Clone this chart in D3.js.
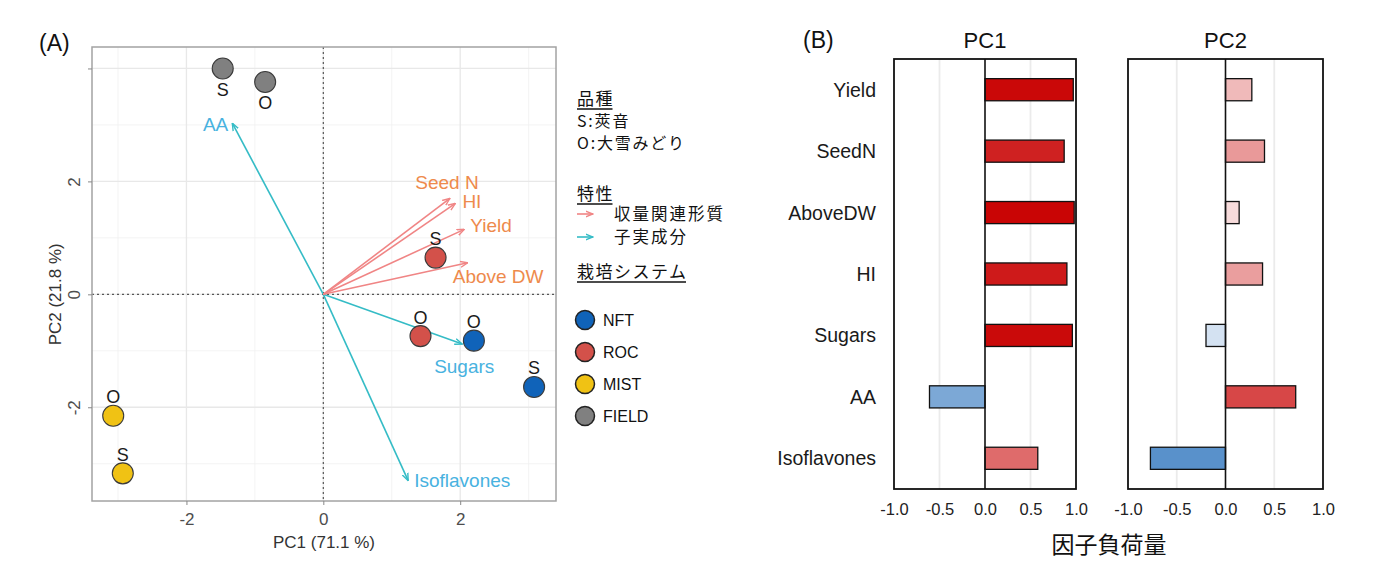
<!DOCTYPE html>
<html>
<head>
<meta charset="utf-8">
<script src="https://cdn.jsdelivr.net/npm/d3@7"></script>
<style>
  body { margin: 0; background: #fff; }
  text { font-family: "Liberation Sans", Arial, "Noto Sans CJK JP", sans-serif; }
  .jp { font-family: "Noto Sans CJK JP", sans-serif; }
</style>
</head>
<body>
<svg id="chart" width="1384" height="579"></svg>
<script>
// ---- data (A) PCA biplot ----
const pointSystem = ["FIELD", "FIELD", "ROC", "ROC", "NFT", "NFT", "MIST", "MIST"];
const pointVariety = ["S", "O", "S", "O", "O", "S", "O", "S"];
const pointPC1 = [-1.47, -0.85, 1.64, 1.42, 2.20, 3.08, -3.07, -2.93];
const pointPC2 = [4.00, 3.76, 0.65, -0.74, -0.82, -1.64, -2.15, -3.17];

const arrowNames = ["AA", "Sugars", "Isoflavones", "Seed N", "HI", "Yield", "Above DW"];
const arrowGroup = ["seed", "seed", "seed", "yield", "yield", "yield", "yield"];
const arrowPC1 = [-1.33, 2.03, 1.24, 1.85, 1.93, 2.06, 2.11];
const arrowPC2 = [3.03, -0.88, -3.30, 1.70, 1.61, 1.15, 0.56];

const xTicksA = [-2, 0, 2];
const yTicksA = [-2, 0, 2];

// ---- data (B) loadings ----
const traits = ["Yield", "SeedN", "AboveDW", "HI", "Sugars", "AA", "Isoflavones"];
const pc1Loadings = [0.97, 0.87, 0.98, 0.90, 0.96, -0.61, 0.58];
const pc2Loadings = [0.27, 0.40, 0.14, 0.38, -0.20, 0.72, -0.77];
const loadTicks = [-1, -0.5, 0, 0.5, 1];

const systems = ["NFT", "ROC", "MIST", "FIELD"];
const systemColor = { NFT: "#1063b9", ROC: "#d3514a", MIST: "#f0c214", FIELD: "#808080" };
const groupColor = { yield: "#f08585", seed: "#35bcc6" };
const groupLabelColor = { yield: "#ee8a4c", seed: "#48b2df" };

// plain hyphen for negatives, like the original
const fmt = d3.formatLocale({ decimal: ".", thousands: ",", grouping: [3], currency: ["", ""], minus: "-" });

// label placement relative to arrow tip (px)
const arrowLabelPos = {
  "AA": [-4, 1, "end"],
  "Sugars": [2, 22, "middle"],
  "Isoflavones": [6, 0, "start"],
  "Seed N": [-3, -16, "middle"],
  "HI": [7, -2, "start"],
  "Yield": [6, -4, "start"],
  "Above DW": [-15, 14, "start"]
};

const svg = d3.select("#chart");

// arrow markers
Object.entries(groupColor).forEach(([k, c]) => {
  svg.append("defs").append("marker")
    .attr("id", "arr-" + k)
    .attr("markerUnits", "userSpaceOnUse")
    .attr("viewBox", "0 0 8 8")
    .attr("markerWidth", 8).attr("markerHeight", 8)
    .attr("refX", 7.5).attr("refY", 4)
    .attr("orient", "auto")
    .append("path")
    .attr("d", "M0,1 L7.5,4 L0,7")
    .attr("fill", "none").attr("stroke", c).attr("stroke-width", 1.4);
});

// ---------- panel A ----------
const pa = { left: 92, right: 556, top: 47, bottom: 501 };
const x = d3.scaleLinear().domain([-3.38, 3.40]).range([pa.left, pa.right]);
const y = d3.scaleLinear().domain([-3.66, 4.38]).range([pa.bottom, pa.top]);

const gA = svg.append("g");

// grid
const minorX = [-3, -1, 1, 3], minorY = [-3, -1, 1, 3];
gA.selectAll(".gxm").data(minorX).join("line")
  .attr("x1", d => x(d)).attr("x2", d => x(d)).attr("y1", pa.top).attr("y2", pa.bottom)
  .attr("stroke", "#f0f0f0").attr("stroke-width", 0.8);
gA.selectAll(".gym").data(minorY).join("line")
  .attr("y1", d => y(d)).attr("y2", d => y(d)).attr("x1", pa.left).attr("x2", pa.right)
  .attr("stroke", "#f0f0f0").attr("stroke-width", 0.8);
gA.selectAll(".gx").data([-2, 0, 2]).join("line")
  .attr("x1", d => x(d)).attr("x2", d => x(d)).attr("y1", pa.top).attr("y2", pa.bottom)
  .attr("stroke", "#e8e8e8").attr("stroke-width", 1.3);
gA.selectAll(".gy").data([-2, 0, 2, 4]).join("line")
  .attr("y1", d => y(d)).attr("y2", d => y(d)).attr("x1", pa.left).attr("x2", pa.right)
  .attr("stroke", "#e8e8e8").attr("stroke-width", 1.3);

// zero dashed lines
gA.append("line").attr("x1", x(0)).attr("x2", x(0)).attr("y1", pa.top).attr("y2", pa.bottom)
  .attr("stroke", "#555").attr("stroke-width", 1.2).attr("stroke-dasharray", "2,3");
gA.append("line").attr("y1", y(0)).attr("y2", y(0)).attr("x1", pa.left).attr("x2", pa.right)
  .attr("stroke", "#555").attr("stroke-width", 1.2).attr("stroke-dasharray", "2,3");

// border
gA.append("rect").attr("x", pa.left).attr("y", pa.top)
  .attr("width", pa.right - pa.left).attr("height", pa.bottom - pa.top)
  .attr("fill", "none").attr("stroke", "#a3a3a3").attr("stroke-width", 1.5);

// axes
const xAxisA = d3.axisBottom(x).tickValues(xTicksA).tickSize(4).tickFormat(fmt.format("d"));
gA.append("g").attr("transform", `translate(0,${pa.bottom})`).call(xAxisA)
  .call(g => g.select(".domain").remove())
  .call(g => g.selectAll("line").attr("stroke", "#888"))
  .call(g => g.selectAll("text").attr("fill", "#4d4d4d").style("font-size", "17px").attr("dy", "1.0em"));

const yAxisA = d3.axisLeft(y).tickValues([...yTicksA, 4]).tickSize(4)
  .tickFormat(d => d === 4 ? "" : fmt.format("d")(d));
gA.append("g").attr("transform", `translate(${pa.left},0)`).call(yAxisA)
  .call(g => g.select(".domain").remove())
  .call(g => g.selectAll("line").attr("stroke", "#888"))
  .call(g => g.selectAll("text").attr("fill", "#4d4d4d").style("font-size", "17px")
    .attr("x", 0).attr("dy", 0).attr("text-anchor", "middle")
    .attr("transform", "translate(-12,0) rotate(-90)"));

gA.append("text").attr("x", 324).attr("y", 548).attr("text-anchor", "middle")
  .attr("fill", "#333").style("font-size", "17px").text("PC1 (71.1 %)");
gA.append("text").attr("transform", `translate(61,${y(0)}) rotate(-90)`).attr("text-anchor", "middle")
  .attr("fill", "#333").style("font-size", "17px").text("PC2 (21.8 %)");

gA.append("text").attr("x", 39).attr("y", 51).attr("fill", "#111").style("font-size", "23px").text("(A)");

// arrows
gA.selectAll(".arrow").data(arrowNames).join("line")
  .attr("x1", x(0)).attr("y1", y(0))
  .attr("x2", (d, i) => x(arrowPC1[i])).attr("y2", (d, i) => y(arrowPC2[i]))
  .attr("stroke", (d, i) => groupColor[arrowGroup[i]]).attr("stroke-width", 1.6)
  .attr("marker-end", (d, i) => `url(#arr-${arrowGroup[i]})`);

gA.selectAll(".alabel").data(arrowNames).join("text")
  .attr("x", (d, i) => x(arrowPC1[i]) + arrowLabelPos[d][0])
  .attr("y", (d, i) => y(arrowPC2[i]) + arrowLabelPos[d][1])
  .attr("dy", "0.35em")
  .attr("text-anchor", d => arrowLabelPos[d][2])
  .attr("fill", (d, i) => groupLabelColor[arrowGroup[i]])
  .style("font-size", "19px")
  .text(d => d);

// points
gA.selectAll(".pt").data(pointSystem).join("circle")
  .attr("cx", (d, i) => x(pointPC1[i])).attr("cy", (d, i) => y(pointPC2[i]))
  .attr("r", 10.5).attr("fill", d => systemColor[d])
  .attr("stroke", "#3a3a3a").attr("stroke-width", 1.1);

gA.selectAll(".ptl").data(pointVariety).join("text")
  .attr("x", (d, i) => x(pointPC1[i]))
  .attr("y", (d, i) => y(pointPC2[i]) + (pointSystem[i] === "FIELD" ? 21 : -19))
  .attr("dy", "0.36em").attr("text-anchor", "middle")
  .attr("fill", "#1a1a1a").style("font-size", "18px")
  .text(d => d);

// legend
const lg = svg.append("g");
const lx = 577;
function legendTitle(t, ty) {
  const tt = lg.append("text").attr("class", "jp").attr("x", lx).attr("y", ty).attr("dy", "0.36em")
    .attr("fill", "#111").style("font-size", "17px").style("letter-spacing", "1.5px").text(t);
  const w = tt.node().getComputedTextLength() - 1.5;
  lg.append("line").attr("x1", lx).attr("x2", lx + w).attr("y1", ty + 10).attr("y2", ty + 10)
    .attr("stroke", "#111").attr("stroke-width", 1.3);
}
legendTitle("品種", 99);
lg.append("text").attr("class", "jp").attr("x", lx).attr("y", 121).attr("dy", "0.36em")
  .attr("fill", "#111").style("font-size", "16px").style("letter-spacing", "1.8px").text("S:莢音");
lg.append("text").attr("class", "jp").attr("x", lx).attr("y", 143).attr("dy", "0.36em")
  .attr("fill", "#111").style("font-size", "16px").style("letter-spacing", "1.8px").text("O:大雪みどり");

legendTitle("特性", 194);
const traitLegend = [["yield", "収量関連形質", 214], ["seed", "子実成分", 237]];
traitLegend.forEach(([k, t, ty]) => {
  lg.append("line").attr("x1", lx).attr("x2", lx + 16).attr("y1", ty).attr("y2", ty)
    .attr("stroke", groupColor[k]).attr("stroke-width", 1.6).attr("marker-end", `url(#arr-${k})`);
  lg.append("text").attr("class", "jp").attr("x", 614).attr("y", ty).attr("dy", "0.36em")
    .attr("fill", "#111").style("font-size", "16.5px").style("letter-spacing", "2px").text(t);
});

legendTitle("栽培システム", 272);
const sysY = d3.scalePoint().domain(systems).range([320, 416]);
systems.forEach(s => {
  lg.append("circle").attr("cx", 585).attr("cy", sysY(s)).attr("r", 9.5)
    .attr("fill", systemColor[s]).attr("stroke", "#222").attr("stroke-width", 1.5);
  lg.append("text").attr("x", 603).attr("y", sysY(s)).attr("dy", "0.36em")
    .attr("fill", "#111").style("font-size", "16px").text(s);
});

// ---------- panel B ----------
const pb = { top: 59, bottom: 489 };
const yB = d3.scaleBand().domain(traits).range([pb.top, pb.bottom]).paddingInner(0.64).paddingOuter(0.32);
const loadColor = d3.scaleLinear().domain([-1, 0, 1]).range(["#2870bc", "#ffffff", "#c80000"]);

function loadingPanel(values, left, right, title) {
  const xs = d3.scaleLinear().domain([-1, 1]).range([left, right]);
  const g = svg.append("g");
  g.selectAll(".gl").data([-0.5, 0.5]).join("line")
    .attr("x1", d => xs(d)).attr("x2", d => xs(d)).attr("y1", pb.top).attr("y2", pb.bottom)
    .attr("stroke", "#ebebeb").attr("stroke-width", 1.8);
  g.selectAll(".bar").data(traits).join("rect")
    .attr("x", (d, i) => xs(Math.min(0, values[i])))
    .attr("y", d => yB(d))
    .attr("width", (d, i) => Math.abs(xs(values[i]) - xs(0)))
    .attr("height", yB.bandwidth())
    .attr("fill", (d, i) => loadColor(values[i]))
    .attr("stroke", "#111").attr("stroke-width", 1.3);
  g.append("line").attr("x1", xs(0)).attr("x2", xs(0)).attr("y1", pb.top).attr("y2", pb.bottom)
    .attr("stroke", "#111").attr("stroke-width", 1.6);
  g.append("rect").attr("x", left).attr("y", pb.top).attr("width", right - left).attr("height", pb.bottom - pb.top)
    .attr("fill", "none").attr("stroke", "#111").attr("stroke-width", 1.8);
  const ax = d3.axisBottom(xs).tickValues(loadTicks).tickSize(0).tickFormat(fmt.format(".1f"));
  g.append("g").attr("transform", `translate(0,${pb.bottom})`).call(ax)
    .call(a => a.select(".domain").remove())
    .call(a => a.selectAll("text").attr("fill", "#222").style("font-size", "16.5px").attr("dy", "0.35em").attr("y", 20));
  g.append("text").attr("x", (left + right) / 2).attr("y", 48).attr("text-anchor", "middle")
    .attr("fill", "#111").style("font-size", "22px").text(title);
  return xs;
}
loadingPanel(pc1Loadings, 894, 1076, "PC1");
loadingPanel(pc2Loadings, 1128, 1323, "PC2");

svg.append("g").selectAll("text").data(traits).join("text")
  .attr("x", 876).attr("y", d => yB(d) + yB.bandwidth() / 2).attr("dy", "0.36em")
  .attr("text-anchor", "end").attr("fill", "#1a1a1a").style("font-size", "19.5px").text(d => d);

svg.append("text").attr("x", 803).attr("y", 48).attr("fill", "#111").style("font-size", "23px").text("(B)");
svg.append("text").attr("class", "jp").attr("x", 1109).attr("y", 545).attr("dy", "0.36em")
  .attr("text-anchor", "middle").attr("fill", "#111").style("font-size", "23px").text("因子負荷量");
</script>
</body>
</html>
